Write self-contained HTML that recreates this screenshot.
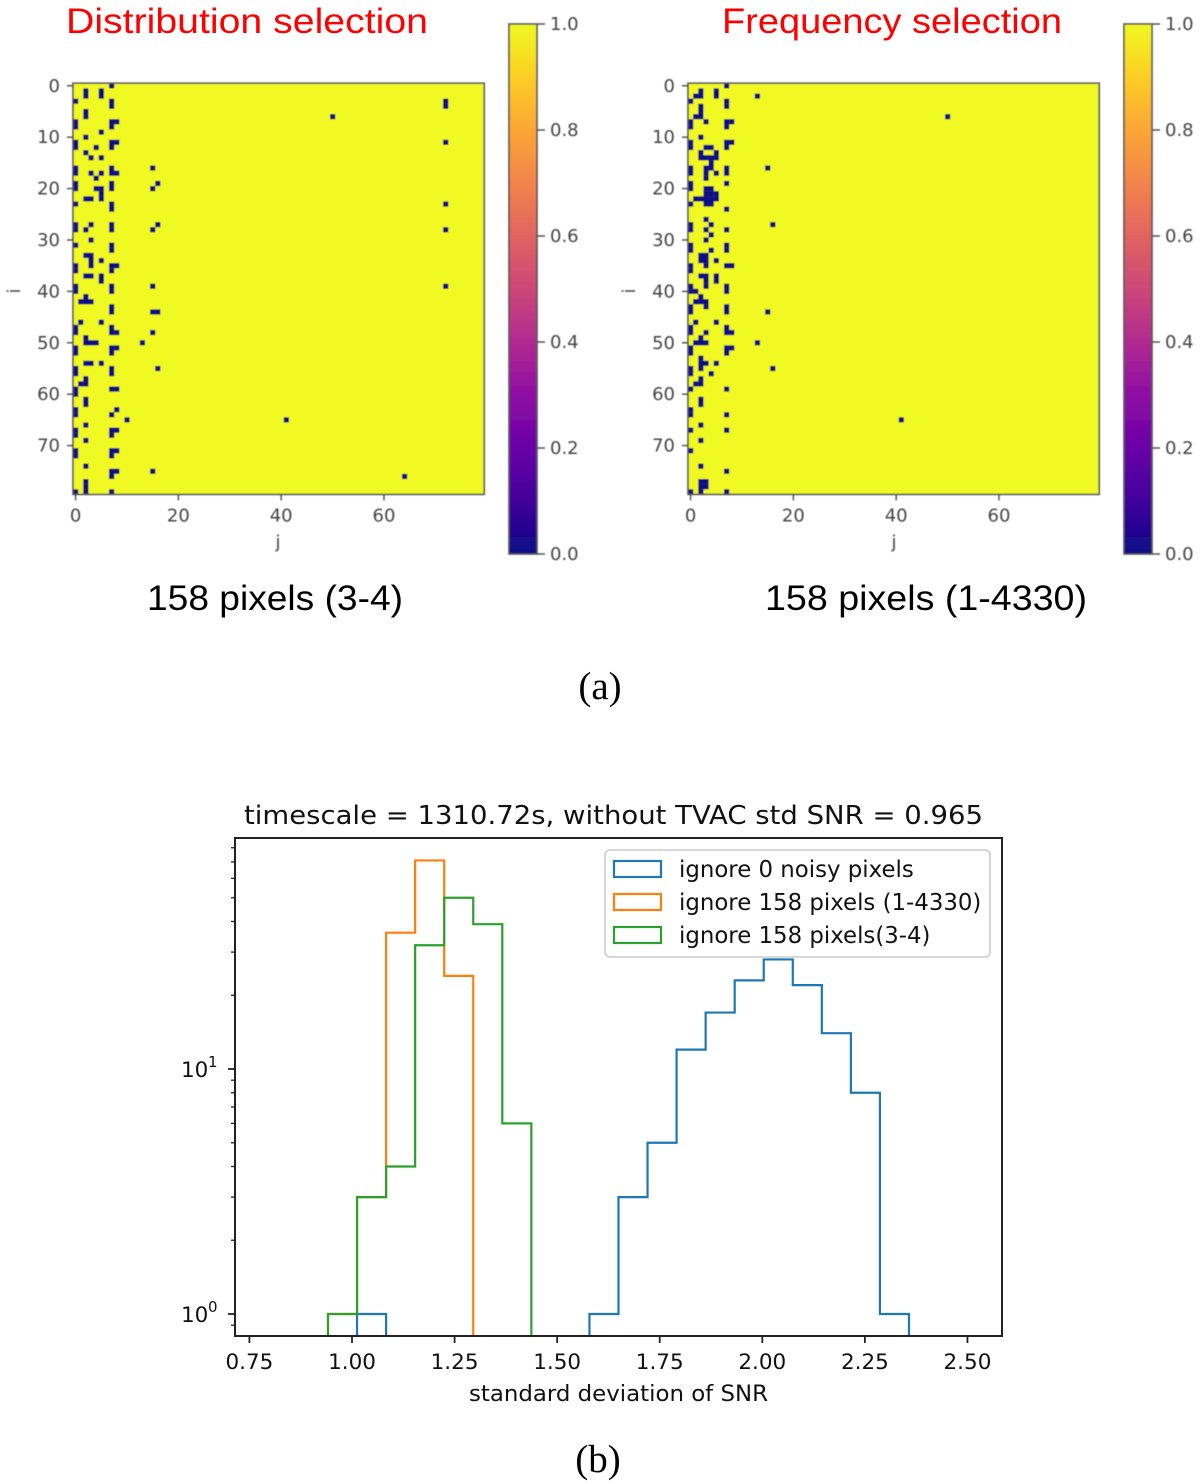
<!DOCTYPE html>
<html lang="en">
<head>
<meta charset="utf-8">
<title>Noisy pixel selection heatmaps and SNR histogram</title>
<style>
html,body{margin:0;padding:0;background:#fff;}
svg{display:block;}
.dj{font-family:"DejaVu Sans","Liberation Sans",sans-serif;}
.ls{font-family:"Liberation Sans",sans-serif;}
.serif{font-family:"Liberation Serif",serif;}
</style>
</head>
<body>
<svg id="fig" xmlns="http://www.w3.org/2000/svg" width="1200" height="1484" viewBox="0 0 1200 1484">
  <defs>
    <linearGradient id="plasma" x1="0" y1="1" x2="0" y2="0">
      <stop offset="0" stop-color="#0d0887"/>
      <stop offset="0.1" stop-color="#41049d"/>
      <stop offset="0.2" stop-color="#6a00a8"/>
      <stop offset="0.3" stop-color="#8f0da4"/>
      <stop offset="0.4" stop-color="#b12a90"/>
      <stop offset="0.5" stop-color="#cc4778"/>
      <stop offset="0.6" stop-color="#e16462"/>
      <stop offset="0.7" stop-color="#f2844b"/>
      <stop offset="0.8" stop-color="#fca636"/>
      <stop offset="0.9" stop-color="#fcce25"/>
      <stop offset="1" stop-color="#f0f921"/>
    </linearGradient>
    <clipPath id="hist-clip"><rect x="235" y="838" width="767" height="498"/></clipPath>
    <filter id="soft" x="-5%" y="-5%" width="110%" height="110%"><feGaussianBlur stdDeviation="0.5"/></filter>
  </defs>
  <text class="ls" x="66" y="33" font-size="35" fill="#ff0000" textLength="362" lengthAdjust="spacingAndGlyphs">Distribution selection</text>
  <text class="ls" x="722" y="33" font-size="35" fill="#ff0000" textLength="340" lengthAdjust="spacingAndGlyphs">Frequency selection</text>
  <text class="ls" x="147" y="610" font-size="35" fill="#000" textLength="256" lengthAdjust="spacingAndGlyphs">158 pixels (3-4)</text>
  <text class="ls" x="765" y="610" font-size="35" fill="#000" textLength="322" lengthAdjust="spacingAndGlyphs">158 pixels (1-4330)</text>
  <text class="serif" x="600" y="699" font-size="39" text-anchor="middle" fill="#000">(a)</text>
  <text class="serif" x="598" y="1472" font-size="39" text-anchor="middle" fill="#000">(b)</text>
  <text class="dj" x="244" y="824" font-size="26" fill="#111" textLength="739" lengthAdjust="spacingAndGlyphs">timescale = 1310.72s, without TVAC std SNR = 0.965</text>
  <text class="dj" x="469" y="1401" font-size="22" fill="#111" textLength="299" lengthAdjust="spacingAndGlyphs">standard deviation of SNR</text>
  <g id="left-heat" filter="url(#soft)"></g>
  <g id="right-heat" filter="url(#soft)"></g>
  <g id="hist"></g>
</svg>
<script>
// Heatmap data: each entry is [row, column, column, ...] of a masked (value 0) pixel
const leftMaskedPixels = [
[0,7],[1,2,5],[2,2,5],[3,0,7,72],[4,7,72],[5,2],[6,2,50],[7,0,7,8],[8,0,7],[9,5],[10,2],
[11,0,7,8,72],[12,0,4,7],[13,2],[14,3,5],[16,0,7,15],[17,0,3,5,7,8],[18,4],[19,0,7,16],
[20,0,4,5,7,15],[21,5],[22,2,3,5],[23,0,7,72],[24,7],[27,0,3,7,16],[28,0,2,7,15,72],[30,3],
[31,0,7],[32,7],[33,2,3],[34,3,5],[35,0,3,7,8],[36,0,7],[37,2,3,5],[38,5],[39,0,7,15,72],
[40,0,7],[41,2],[42,1,2,3],[43,7],[44,7,15,16],[46,1,5],[47,0,7],[48,0,7,8,15],[49,2],
[50,2,3,4,13],[51,0,7,8],[52,0,7],[54,2,3,5],[55,0,7,16],[56,0,7],[57,2],[58,1,2],[59,0,7,8],
[60,0],[61,2],[62,2],[63,0,8],[64,0,7],[65,10,41],[66,2],[67,0,7,8],[68,0,7],[69,2],
[71,0,7,8],[72,0,7],[74,2],[75,7,8,15],[76,7,64],[77,2],[78,2],[79,0,2,7]
];
const rightMaskedPixels = [
[0,7],[1,2,5],[2,1,2,5,13],[3,0,7],[4,2,7],[5,2],[6,1,2,50],[7,0,3,7,8],[8,0,7],[10,2],
[11,0,7,8],[12,0,3,4,7],[13,2,5],[14,2,3,4,5],[15,4],[16,0,3,4,7,15],[17,0,3,5,7],[18,3],
[19,0,7],[20,0,3,4],[21,3,4,5],[22,1,2,3,4,5],[23,0,3,4],[24,7],[26,3],[27,0,4,16],[28,0,3,7],
[29,4],[30,3],[31,0,7],[32,0,4,7],[33,2,3],[34,2,3,5],[35,0,3,7,8],[36,0],[37,2,3,5],[38,3,5],
[39,0,3,7],[40,0,1,7],[41,2],[42,1,2,3],[43,0,3,7],[44,0,7,15],[46,1,5],[47,0,7],[48,0,3,7,8],
[49,2],[50,1,2,3,13],[51,0,7,8],[52,0,7],[53,2],[54,2,3,5],[55,0,2,16],[56,0,4],[57,2],[58,1,2],
[59,0,7],[61,2],[62,2],[63,0],[64,0,7],[65,41],[66,2],[67,0,7],[69,2],[71,0],[74,2],[75,7],
[77,2,3],[78,2,3],[79,0,2,7]
];
const heatXTicks = [0,20,40,60];
const heatYTicks = [0,10,20,30,40,50,60,70];
const colorbarTicks = [0,0.2,0.4,0.6,0.8,1.0];

// Histogram data: counts per bin, 20 bins
const blueCounts   = [0,1,0,0,0,0,0,0,0,1,3,5,12,17,23,28,22,14,8,1];
const orangeCounts = [1,3,36,71,24,0,0,0,0,0,0,0,0,0,0,0,0,0,0,0];
const greenCounts  = [1,3,4,32,50,39,6,0,0,0,0,0,0,0,0,0,0,0,0,0];
const histBinStart = 0.9415;
const histBinWidth = 0.0708;
const histXTicks = [0.75,1.00,1.25,1.50,1.75,2.00,2.25,2.50];
const histMajorY = [1,10];
const histMinorY = [2,3,4,5,6,7,8,9,20,30,40,50,60,70,80,0.9];
const legendLabels = ["ignore 0 noisy pixels","ignore 158 pixels (1-4330)","ignore 158 pixels(3-4)"];
const seriesColors = ["#1f77b4","#ff7f0e","#2ca02c"];

const NS = "http://www.w3.org/2000/svg";
function mk(tag, attrs, parent){
  const el = document.createElementNS(NS, tag);
  for(const k in attrs){ el.setAttribute(k, attrs[k]); }
  parent.appendChild(el);
  return el;
}

function drawHeat(group, pixels, left, cbLeft, yLabelX, xLabelX){
  const top = 83.2, cell = 5.14, n = 80, right = left + n*cell, bottom = top + n*cell;
  const hx = v => left + (v + 0.5)*cell;
  const hy = v => top + (v + 0.5)*cell;
  const bg = mk("rect",{x:left,y:top,width:n*cell,height:n*cell,fill:"#f0f921"},group);
  
  
  pixels.forEach(function(entry){
    const row = entry[0];
    entry.slice(1).forEach(function(col){
      const c = mk("rect",{x:hx(col)-cell/2,y:hy(row)-cell/2,width:cell+0.1,height:cell+0.1,fill:"#0d0887"},group);
      
      
    });
  });
  const frame = mk("rect",{x:left,y:top,width:n*cell,height:n*cell,fill:"none",stroke:"#555",'stroke-width':1.6},group);
  
  
  heatXTicks.forEach(function(t){
    const l = mk("line",{x1:hx(t),x2:hx(t),y1:bottom,y2:bottom+6,stroke:"#555",'stroke-width':1.5},group);
    
    
    const tx = mk("text",{x:hx(t),y:bottom+27,'font-size':18,'text-anchor':'middle',fill:"#444",class:"dj"},group);
    tx.textContent = t;
    
    
  });
  heatYTicks.forEach(function(t){
    const l = mk("line",{x1:left-6,x2:left,y1:hy(t),y2:hy(t),stroke:"#555",'stroke-width':1.5},group);
    
    
    const tx = mk("text",{x:left-13,y:hy(t)+6,'font-size':18,'text-anchor':'end',fill:"#444",class:"dj"},group);
    tx.textContent = t;
    
    
  });
  const xl = mk("text",{x:xLabelX,y:548,'font-size':18,'text-anchor':'middle',fill:"#444",class:"dj"},group);
  xl.textContent = "j";
  
  
  const yl = mk("text",{x:yLabelX,y:291,'font-size':18,'text-anchor':'middle',fill:"#444",class:"dj",transform:"rotate(-90 "+yLabelX+" 291)"},group);
  yl.textContent = "i";
  
  

  const cbTop = 24, cbH = 530, cbW = 28;
  const cy = v => cbTop + (1 - v)*cbH;
  const cb = mk("rect",{x:cbLeft,y:cbTop,width:cbW,height:cbH,fill:"url(#plasma)",stroke:"#555",'stroke-width':1.6},group);
  
  
  colorbarTicks.forEach(function(t){
    const l = mk("line",{x1:cbLeft+cbW,x2:cbLeft+cbW+8,y1:cy(t),y2:cy(t),stroke:"#555",'stroke-width':1.5},group);
    
    
    const tx = mk("text",{x:cbLeft+cbW+13,y:cy(t)+6,'font-size':18,fill:"#444",class:"dj"},group);
    tx.textContent = t.toFixed(1);
    
    
  });
}
drawHeat(document.getElementById("left-heat"), leftMaskedPixels, 73, 509, 20, 278);
drawHeat(document.getElementById("right-heat"), rightMaskedPixels, 688, 1124, 635, 894);

(function(){
  const g = document.getElementById("hist");
  const L = 235, R = 1002, T = 838, B = 1336;
  const sx = v => 352 + (v - 1)*410.3;
  const sy = v => 1314 - 245*Math.log10(v);
  function stepPath(counts){
    let d = "M" + sx(histBinStart) + "," + (B + 4);
    counts.forEach(function(c, i){
      const y = c > 0 ? sy(c) : B + 4;
      d += "L" + sx(histBinStart + i*histBinWidth) + "," + y;
      d += "L" + sx(histBinStart + (i+1)*histBinWidth) + "," + y;
    });
    d += "L" + sx(histBinStart + counts.length*histBinWidth) + "," + (B + 4);
    return d;
  }
  const clip = mk("g",{'clip-path':"url(#hist-clip)"},g);
  
  
  const p1 = mk("path",{d:stepPath(blueCounts),fill:"none",stroke:seriesColors[0],'stroke-width':2.2},clip);
  
  
  const p2 = mk("path",{d:stepPath(orangeCounts),fill:"none",stroke:seriesColors[1],'stroke-width':2.2},clip);
  
  
  const p3 = mk("path",{d:stepPath(greenCounts),fill:"none",stroke:seriesColors[2],'stroke-width':2.2},clip);
  
  

  const frame = mk("rect",{x:L,y:T,width:R-L,height:B-T,fill:"none",stroke:"#222",'stroke-width':2},g);
  
  

  histXTicks.forEach(function(t){
    const l = mk("line",{x1:sx(t),x2:sx(t),y1:B,y2:B+7,stroke:"#222",'stroke-width':1.8},g);
    
    
    const tx = mk("text",{x:sx(t),y:B+33,'font-size':21.5,'text-anchor':'middle',fill:"#111",class:"dj"},g);
    tx.textContent = t.toFixed(2);
    
    
  });
  histMajorY.forEach(function(t){
    const l = mk("line",{x1:L-7,x2:L,y1:sy(t),y2:sy(t),stroke:"#222",'stroke-width':1.8},g);
    
    
    const tx = mk("text",{x:181,y:sy(t)+8,'font-size':21.5,fill:"#111",class:"dj"},g);
    tx.textContent = "10";
    
    
    const ex = mk("text",{x:208,y:sy(t)-2,'font-size':15,fill:"#111",class:"dj"},g);
    ex.textContent = Math.round(Math.log10(t));
    
    
  });
  histMinorY.forEach(function(t){
    const l = mk("line",{x1:L-4,x2:L,y1:sy(t),y2:sy(t),stroke:"#222",'stroke-width':1.3},g);
    
    
  });

  const legendBox = mk("rect",{x:605,y:850,width:385,height:107,rx:5,fill:"#fff",'fill-opacity':0.85,stroke:"#ccc",'stroke-width':1.6},g);
  
  
  const legendRowY = i => 869 + i*33;
  legendLabels.forEach(function(label, i){
    const h = mk("rect",{x:614,y:legendRowY(i)-8,width:47,height:16,fill:"none",stroke:seriesColors[i],'stroke-width':2.2},g);
    
    
    const tx = mk("text",{x:679,y:legendRowY(i)+8,'font-size':22.85,fill:"#111",class:"dj"},g);
    tx.textContent = label;
    
    
  });
})();
</script>
</body>
</html>
